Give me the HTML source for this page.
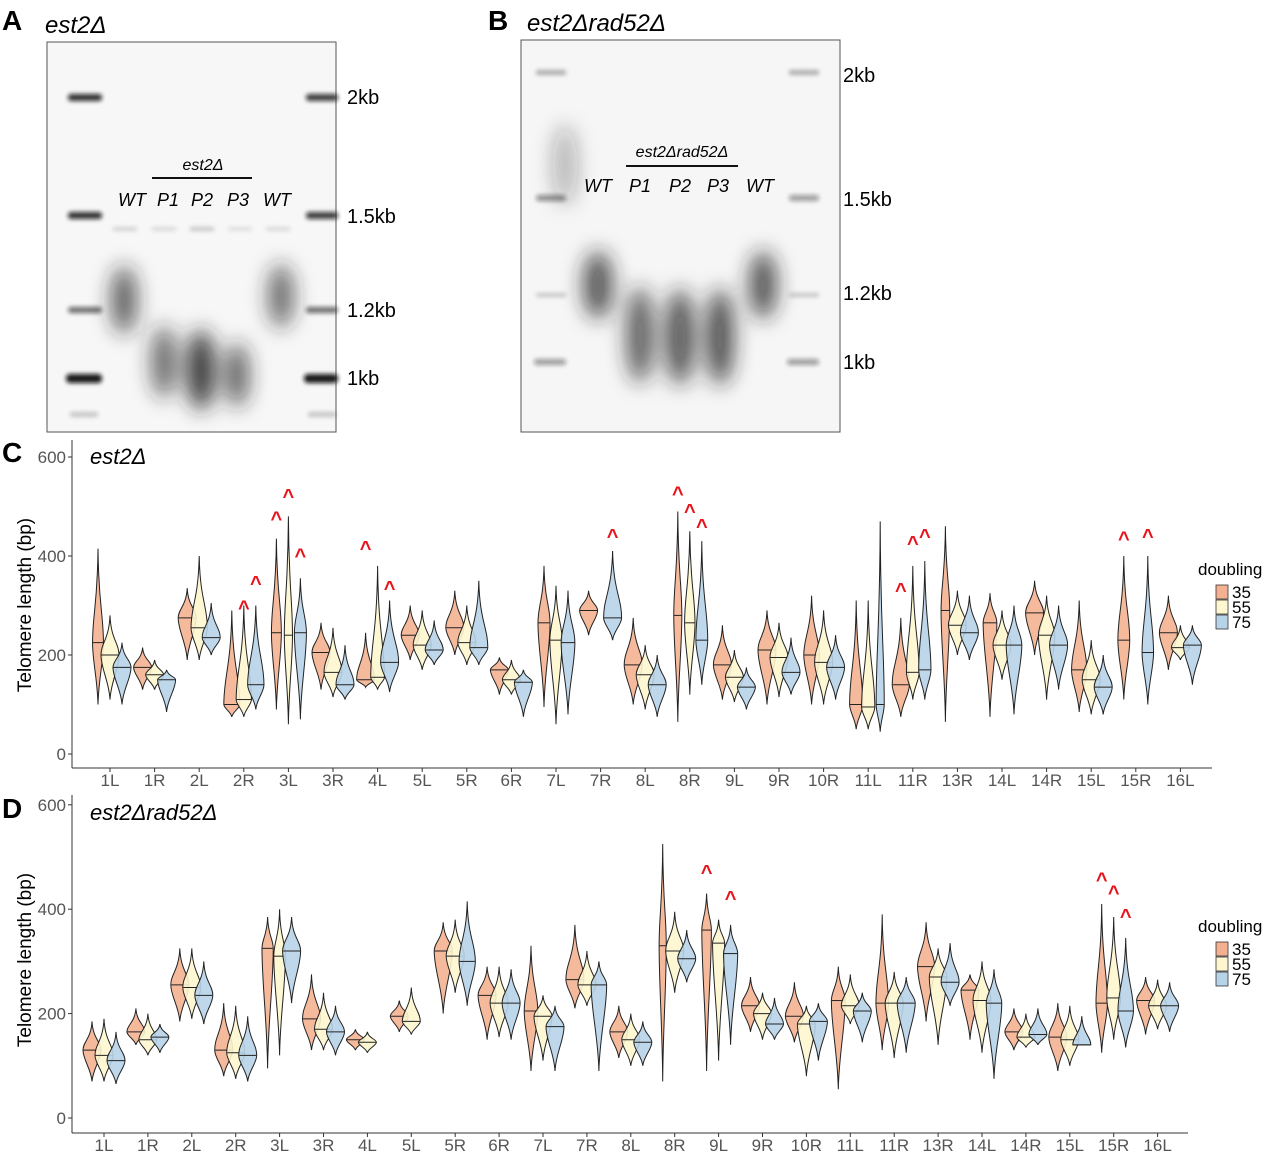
<!DOCTYPE html>
<html><head><meta charset="utf-8"><style>
body{margin:0;background:#fff;}
svg{display:block;font-family:"Liberation Sans",Arial,sans-serif;}
</style></head><body>
<svg id="fig" width="1280" height="1156" viewBox="0 0 1280 1156" xmlns="http://www.w3.org/2000/svg">
<defs>
<filter id="b2" x="-50%" y="-50%" width="200%" height="200%"><feGaussianBlur stdDeviation="2"/></filter>
<filter id="b10" x="-50%" y="-50%" width="200%" height="200%"><feGaussianBlur stdDeviation="10"/></filter>
</defs>
<!-- Panel A -->
<g>
<text x="2" y="30" font-size="28" font-weight="bold">A</text>
<text x="45" y="33" font-size="24" font-style="italic">est2Δ</text>
<rect x="47" y="42" width="289" height="390" fill="#f7f7f7" stroke="#555" stroke-width="1"/>
<g filter="url(#b2)" fill="#111">
<rect x="68" y="94" width="34" height="7" rx="3" opacity="0.85"/>
<rect x="68" y="212" width="34" height="7" rx="3" opacity="0.85"/>
<rect x="68" y="307" width="34" height="6" rx="3" opacity="0.6"/>
<rect x="66" y="374" width="36" height="9" rx="4" opacity="0.95"/>
<rect x="70" y="412" width="28" height="5" rx="2" opacity="0.2"/>
<rect x="306" y="94" width="32" height="7" rx="3" opacity="0.8"/>
<rect x="306" y="212" width="32" height="7" rx="3" opacity="0.8"/>
<rect x="306" y="307" width="32" height="6" rx="3" opacity="0.6"/>
<rect x="304" y="374" width="34" height="9" rx="4" opacity="0.95"/>
<rect x="308" y="412" width="28" height="5" rx="2" opacity="0.2"/>
<rect x="113" y="227" width="24" height="4" opacity="0.15"/><rect x="152" y="227" width="24" height="4" opacity="0.12"/><rect x="190" y="227" width="24" height="4" opacity="0.2"/><rect x="228" y="227" width="24" height="4" opacity="0.1"/><rect x="266" y="227" width="24" height="4" opacity="0.12"/>
</g>
<g filter="url(#b10)" fill="#222">
<ellipse cx="124" cy="300" rx="13" ry="34" opacity="0.7"/>
<ellipse cx="164" cy="362" rx="13" ry="36" opacity="0.65"/>
<ellipse cx="201" cy="370" rx="14" ry="40" opacity="0.9"/>
<ellipse cx="237" cy="375" rx="12" ry="32" opacity="0.7"/>
<ellipse cx="281" cy="296" rx="13" ry="32" opacity="0.65"/>
</g>
<text x="203" y="170" font-size="16" font-style="italic" text-anchor="middle">est2Δ</text>
<line x1="152" y1="178" x2="252" y2="178" stroke="#111" stroke-width="2"/>
<g font-size="18" font-style="italic" text-anchor="middle">
<text x="132" y="206">WT</text><text x="168" y="206">P1</text><text x="202" y="206">P2</text><text x="238" y="206">P3</text><text x="277" y="206">WT</text></g>
<g font-size="20"><text x="347" y="104">2kb</text><text x="347" y="223">1.5kb</text><text x="347" y="317">1.2kb</text><text x="347" y="385">1kb</text></g>
</g>
<!-- Panel B -->
<g>
<text x="488" y="30" font-size="28" font-weight="bold">B</text>
<text x="527" y="31" font-size="24" font-style="italic">est2Δrad52Δ</text>
<rect x="521" y="40" width="319" height="392" fill="#f6f6f6" stroke="#555" stroke-width="1"/>
<g filter="url(#b2)" fill="#111">
<rect x="536" y="70" width="30" height="5" rx="2" opacity="0.3"/>
<rect x="536" y="195" width="30" height="6" rx="3" opacity="0.45"/>
<rect x="536" y="293" width="30" height="4" rx="2" opacity="0.2"/>
<rect x="534" y="359" width="32" height="6" rx="3" opacity="0.4"/>
<rect x="789" y="70" width="30" height="5" rx="2" opacity="0.3"/>
<rect x="789" y="195" width="30" height="6" rx="3" opacity="0.4"/>
<rect x="789" y="293" width="30" height="4" rx="2" opacity="0.2"/>
<rect x="787" y="359" width="32" height="6" rx="3" opacity="0.4"/>
</g>
<g filter="url(#b10)" fill="#222">
<ellipse cx="565" cy="165" rx="12" ry="40" opacity="0.3"/>
<ellipse cx="598" cy="285" rx="15" ry="34" opacity="0.75"/>
<ellipse cx="640" cy="335" rx="14" ry="48" opacity="0.7"/>
<ellipse cx="680" cy="337" rx="15" ry="48" opacity="0.75"/>
<ellipse cx="720" cy="337" rx="14" ry="48" opacity="0.78"/>
<ellipse cx="763" cy="285" rx="14" ry="34" opacity="0.75"/>
</g>
<text x="682" y="157" font-size="16" font-style="italic" text-anchor="middle">est2Δrad52Δ</text>
<line x1="626" y1="166" x2="738" y2="166" stroke="#111" stroke-width="2"/>
<g font-size="18" font-style="italic" text-anchor="middle">
<text x="598" y="192">WT</text><text x="640" y="192">P1</text><text x="680" y="192">P2</text><text x="718" y="192">P3</text><text x="760" y="192">WT</text></g>
<g font-size="20"><text x="843" y="82">2kb</text><text x="843" y="206">1.5kb</text><text x="843" y="300">1.2kb</text><text x="843" y="369">1kb</text></g>
</g>
<g id="chartC"></g>
<g id="chartD"></g>
</svg>
<script>
// categories
const catsC = ["1L","1R","2L","2R","3L","3R","4L","5L","5R","6R","7L","7R","8L","8R","9L","9R","10R","11L","11R","13R","14L","14R","15L","15R","16L"];
const catsD = ["1L","1R","2L","2R","3L","3R","4L","5L","5R","6R","7L","7R","8L","8R","9L","9R","10R","11L","11R","13R","14L","14R","15L","15R","16L"];
const seriesNames = ["35","55","75"];
const yTicks = [0,200,400,600];
// panel C: [35,55,75] per category (bp)
const cMedian = [[225,200,175],[175,160,150],[275,255,235],[100,110,140],[245,240,245],[205,165,140],[150,155,185],[240,220,210],[255,225,215],[170,150,145],[265,230,225],[290,null,275],[180,160,140],[280,265,230],[180,155,135],[210,195,165],[200,185,175],[100,95,100],[140,165,170],[290,260,245],[265,220,220],[285,240,220],[170,150,135],[230,null,205],[245,215,220]];
const cMin = [[100,110,100],[130,130,85],[190,190,200],[75,75,90],[90,60,70],[130,115,110],[135,130,125],[190,170,180],[200,180,180],[120,120,75],[95,60,80],[240,null,230],[100,90,75],[65,120,140],[110,105,90],[100,115,120],[100,100,110],[50,50,45],[75,110,110],[65,200,190],[75,150,80],[200,110,130],[85,80,80],[110,null,100],[170,190,140]];
const cMax = [[415,280,225],[215,190,170],[335,400,305],[290,300,300],[435,480,355],[265,255,220],[245,380,310],[300,290,270],[330,300,350],[195,190,170],[380,340,330],[330,null,410],[275,220,200],[490,450,430],[260,210,175],[290,265,235],[320,290,240],[310,310,470],[275,380,390],[460,330,320],[325,290,300],[350,320,300],[310,230,200],[400,null,400],[320,260,260]];
// carets: [category index, series index, bp]
const cCarets = [[3,1,310],[3,2,360],[4,0,490],[4,1,535],[4,2,415],[6,0,430],[6,2,350],[11,2,455],[13,0,540],[13,1,505],[13,2,475],[18,0,345],[18,1,440],[18,2,455],[23,0,450],[23,2,455]];
// panel D
const dMedian = [[130,120,110],[165,150,155],[255,250,235],[130,125,120],[325,310,320],[190,170,165],[150,145,null],[195,185,null],[320,310,300],[235,220,220],[205,195,175],[265,255,255],[165,150,145],[330,320,305],[360,335,315],[215,200,180],[195,180,185],[225,215,205],[220,220,220],[290,270,260],[245,225,220],[165,155,160],[155,150,140],[220,230,205],[225,215,215]];
const dMin = [[70,70,65],[140,120,125],[185,190,180],[80,75,70],[95,120,220],[130,130,120],[130,125,null],[165,160,null],[200,240,215],[150,155,150],[90,110,90],[210,215,90],[115,100,100],[70,240,260],[90,110,140],[165,150,150],[145,80,110],[55,180,145],[130,115,125],[185,140,215],[150,125,75],[130,135,140],[90,100,140],[125,150,135],[160,170,165]];
const dMax = [[185,190,165],[210,200,180],[325,325,300],[220,215,195],[385,400,385],[275,240,215],[170,165,null],[225,250,null],[375,380,415],[290,290,285],[330,235,215],[370,320,300],[215,200,185],[525,395,360],[430,380,370],[270,240,230],[260,215,220],[290,275,240],[390,280,270],[375,325,335],[275,300,285],[210,200,210],[220,215,195],[410,385,345],[270,265,260]];
const dCarets = [[14,0,485],[14,2,435],[23,0,470],[23,1,445],[23,2,400]];

const colors = ["#f4b191","#fdf6cf","#b7d3e8"];
const NS = "http://www.w3.org/2000/svg";
function mk(tag, attrs, parent){const e=document.createElementNS(NS,tag);for(const k in attrs)e.setAttribute(k,attrs[k]);parent.appendChild(e);return e;}

function drawPanel(g, cfg){
  const {cats, med, mn, mx, carets, x0, dx, y0px, pxPerBp, axisX2, axisY, leftX, topY, letter, title, letterY, legendY, ytitleY} = cfg;
  const xs = i => x0 + i*dx;
  const ys = v => y0px - v*pxPerBp;
  const ax = mk("line",{x1:leftX,y1:topY,x2:leftX,y2:axisY,stroke:"#333","stroke-width":1},g);
  
  
  const xax = mk("line",{x1:leftX,y1:axisY,x2:axisX2,y2:axisY,stroke:"#333","stroke-width":1},g);
  
  
  yTicks.forEach(t=>{
    mk("line",{x1:leftX-4,y1:ys(t),x2:leftX,y2:ys(t),stroke:"#333"},g);
    const tx = mk("text",{x:leftX-6,y:ys(t)+6,"font-size":17,fill:"#555","text-anchor":"end"},g);
    tx.textContent=t;
    
    
  });
  cats.forEach((c,i)=>{
    mk("line",{x1:xs(i),y1:axisY,x2:xs(i),y2:axisY+4,stroke:"#333"},g);
    const tx = mk("text",{x:xs(i),y:axisY+18,"font-size":17,fill:"#555","text-anchor":"middle"},g);
    tx.textContent=c;
    
    
  });
  const yt = mk("text",{x:0,y:0,"font-size":19,"text-anchor":"middle",transform:`translate(31,${ytitleY}) rotate(-90)`},g);
  yt.textContent="Telomere length (bp)";
  
  
  const lt = mk("text",{x:2,y:letterY,"font-size":28,"font-weight":"bold"},g);
  lt.textContent=letter;
  
  
  const tt = mk("text",{x:90,y:letterY+2,"font-size":22,"font-style":"italic"},g);
  tt.textContent=title;
  
  
  cats.forEach((c,i)=>{
    [0,1,2].forEach(s=>{
      const m=med[i][s]; if(m===null) return;
      const cx = xs(i) + (s-1)*12;
      const yT=ys(mx[i][s]), yB=ys(mn[i][s]), yM=ys(m);
      const range = yB-yT;
      const W = Math.max(2.5, Math.min(9, 850/range));
      const a=yM-yT, b=yB-yM;
      const d=`M${cx},${yT} C${cx+W*0.1},${yT+a*0.6} ${cx+W},${yM-a*0.3} ${cx+W},${yM} C${cx+W},${yM+b*0.3} ${cx+W*0.1},${yB-b*0.4} ${cx},${yB} C${cx-W*0.1},${yB-b*0.4} ${cx-W},${yM+b*0.3} ${cx-W},${yM} C${cx-W},${yM-a*0.3} ${cx-W*0.1},${yT+a*0.6} ${cx},${yT} Z`;
      const p = mk("path",{d,fill:colors[s],stroke:"#222","stroke-width":1,"fill-opacity":0.9},g);
      
      
      const ml = mk("line",{x1:cx-W*0.95,y1:yM,x2:cx+W*0.95,y2:yM,stroke:"#222","stroke-width":1},g);
      
      
    });
  });
  carets.forEach(([ci,s,v])=>{
    const t = mk("text",{x:xs(ci)+(s-1)*12,y:ys(v)+14,"font-size":20,"font-weight":"bold",fill:"#e8141c","text-anchor":"middle"},g);
    t.textContent="^";
    
    
  });
  const lg = mk("g",{},g);
  
  
  const lt2 = mk("text",{x:1198,y:legendY,"font-size":17},lg);
  lt2.textContent="doubling";
  seriesNames.forEach((n,s)=>{
    const r = mk("rect",{x:1216,y:legendY+10+s*15,width:12,height:14,fill:colors[s],stroke:"#333","stroke-width":0.8},lg);
    
    
    const t = mk("text",{x:1232,y:legendY+23+s*15,"font-size":17},lg);
    t.textContent=n;
    
    
  });
}
drawPanel(document.getElementById("chartC"),{cats:catsC,med:cMedian,mn:cMin,mx:cMax,carets:cCarets,x0:110,dx:44.6,y0px:754,pxPerBp:0.495,axisX2:1212,axisY:768,leftX:72,topY:440,letter:"C",title:"est2Δ",letterY:462,legendY:575,ytitleY:605});
drawPanel(document.getElementById("chartD"),{cats:catsD,med:dMedian,mn:dMin,mx:dMax,carets:dCarets,x0:104,dx:43.9,y0px:1118,pxPerBp:0.522,axisX2:1188,axisY:1133,leftX:72,topY:795,letter:"D",title:"est2Δrad52Δ",letterY:818,legendY:932,ytitleY:960});
</script>
</body></html>
